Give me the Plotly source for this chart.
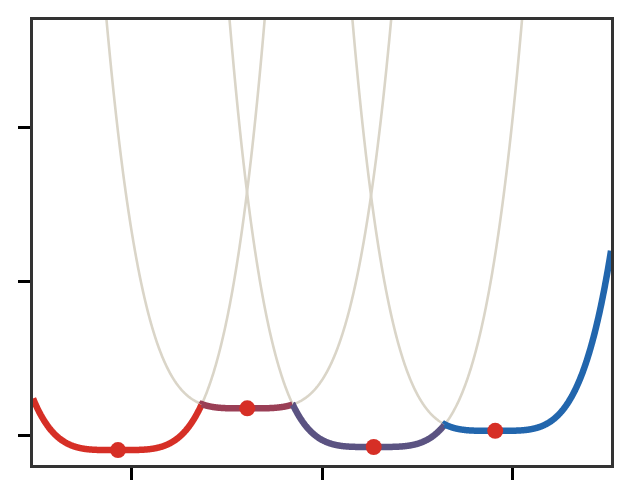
import numpy as np
import plotly.graph_objects as go

# four quartic wells: position of minimum, depth, steepness left / right of the minimum
well_x = [-1.073, -0.393, 0.272, 0.911]
well_y = [-0.097, 0.174, -0.077, 0.028]
well_kl = [8.4, 8.4, 8.4, 8.4]
well_kr = [7.9, 7.7, 7.5, 8.5]
well_col = ['#d62f26', '#9a3f56', '#5b5382', '#2266ad']
grey = '#dad5c8'

x = np.linspace(-1.52, 1.52, 1500)
curves = np.array([c + np.where(x < m, kl, kr) * (x - m) ** 4
                   for m, c, kl, kr in zip(well_x, well_y, well_kl, well_kr)])
lowest = curves.argmin(axis=0)
env = curves.min(axis=0)

fig = go.Figure()
for i in range(len(well_x)):
    fig.add_trace(go.Scatter(x=x, y=curves[i], mode='lines',
                             line=dict(color=grey, width=2.6, simplify=False),
                             hoverinfo='skip'))

for i in range(len(well_x)):
    idx = np.where(lowest == i)[0]
    lo, hi = idx[0], idx[-1]
    lo = max(lo - 1, 0)
    fig.add_trace(go.Scatter(x=x[lo:hi + 1], y=env[lo:hi + 1], mode='lines',
                             line=dict(color=well_col[i], width=6.5, simplify=False)))

fig.add_trace(go.Scatter(x=well_x, y=well_y, mode='markers',
                         marker=dict(color='#d62f26', size=16)))

axis = dict(showgrid=False, zeroline=False, showticklabels=False,
            showline=True, mirror=True, linecolor='#333333', linewidth=3,
            ticks='outside', ticklen=12, tickwidth=2.5, tickcolor='black')
fig.update_xaxes(range=[-1.52, 1.52], tickvals=[-1, 0, 1], **axis)
fig.update_yaxes(range=[-0.194, 2.697], tickvals=[0, 1, 2], **axis)
fig.update_layout(width=632, height=497, showlegend=False,
                  plot_bgcolor='white', paper_bgcolor='white',
                  margin=dict(l=25, r=29, t=9, b=40))

fig.write_html("out.html")
